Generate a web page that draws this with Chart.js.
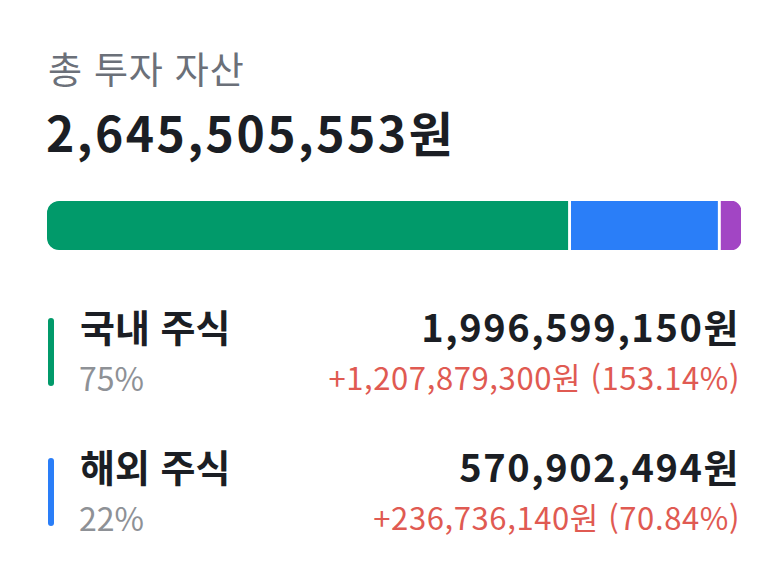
<!DOCTYPE html>
<html lang="ko">
<head>
<meta charset="utf-8">
<script src="https://cdn.jsdelivr.net/npm/chart.js@4/dist/chart.umd.min.js"></script>
<style>
  body { margin: 0; width: 776px; height: 582px; background: #fff; position: relative; overflow: hidden;
         font-family: "Noto Sans CJK KR", "Noto Sans", sans-serif; }
  #title { position: absolute; left: 48px; top: 41px; font-size: 37px; color: #6b7079; letter-spacing: 0.8px; }
  #total { position: absolute; left: 46px; top: 96px; font-size: 48px; font-weight: 700; color: #1b1e24; letter-spacing: 2.5px; }
  #barWrap { position: absolute; left: 47px; top: 201px; width: 694px; height: 49px; }
  .row { position: absolute; left: 48px; width: 692px; height: 80px; }
  .stick { position: absolute; left: 0; top: 12px; width: 6px; height: 68px; border-radius: 3px; }
  .name { position: absolute; left: 32px; top: -8px; font-size: 38px; font-weight: 700; color: #1b1e24; }
  .pct { position: absolute; left: 31px; top: 48px; font-size: 32px; color: #8e9196; }
  .amt { position: absolute; right: 0; top: -8px; font-size: 38px; font-weight: 700; color: #1b1e24; letter-spacing: 1.6px; }
  .gain { position: absolute; right: 0; top: 48px; font-size: 31px; color: #e05a52; letter-spacing: 0.6px; }
</style>
</head>
<body>
<div id="title">총 투자 자산</div>
<div id="total"></div>
<div id="barWrap"><canvas id="bar"></canvas></div>
<div id="rows"></div>
<script>
// Chart Data
const titleText = '총 투자 자산';
const categories = ['국내 주식', '해외 주식', '기타'];
const amounts = [1996599150, 570902494, 78003909];
const gains = [1207879300, 236736140, null];
const gainRates = [153.14, 70.84, null];
const shares = [75, 22, 3];
const colors = ['#019a6a', '#2a7ef8', '#a245c4'];

const total = amounts.reduce((a, b) => a + b, 0);
const won = n => n.toLocaleString('en-US') + '원';

document.getElementById('total').textContent = won(total);

// Rows under the bar (only the first two are listed)
const rowsEl = document.getElementById('rows');
const rowTops = [306, 446];
for (let i = 0; i < 2; i++) {
    const row = document.createElement('div');
    row.className = 'row';
    row.style.top = rowTops[i] + 'px';
    row.innerHTML =
        '<div class="stick" style="background:' + colors[i] + '"></div>' +
        '<div class="name">' + categories[i] + '</div>' +
        '<div class="pct">' + shares[i] + '%</div>' +
        '<div class="amt">' + won(amounts[i]) + '</div>' +
        '<div class="gain">+' + won(gains[i]) + ' (' + gainRates[i].toFixed(2) + '%)</div>';
    rowsEl.appendChild(row);
}

// Stacked bar
const last = categories.length - 1;
const datasets = categories.map((c, i) => ({
    label: c,
    data: [amounts[i]],
    backgroundColor: colors[i],
    borderColor: '#ffffff',
    borderWidth: i < last ? { right: 3 } : 0,
    borderSkipped: false,
    borderRadius: i === 0 ? { topLeft: 12, bottomLeft: 12 }
                : i === last ? { topRight: 12, bottomRight: 12 } : 0,
    barPercentage: 1,
    categoryPercentage: 1
}));

const ctx = document.getElementById('bar').getContext('2d');
new Chart(ctx, {
    type: 'bar',
    data: { labels: [titleText], datasets: datasets },
    options: {
        indexAxis: 'y',
        responsive: true,
        maintainAspectRatio: false,
        animation: false,
        layout: { padding: 0 },
        plugins: { legend: { display: false }, tooltip: { enabled: false } },
        scales: {
            x: { stacked: true, display: false, min: 0, max: total },
            y: { stacked: true, display: false }
        }
    }
});
</script>
</body>
</html>
